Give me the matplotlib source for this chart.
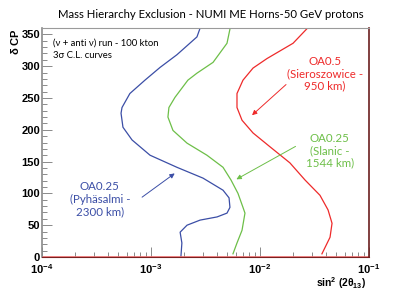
import numpy as np
import matplotlib
matplotlib.use("Agg")
import matplotlib.pyplot as plt

plt.rcParams['font.family'] = ['Lato', 'DejaVu Sans']
plt.rcParams['mathtext.fontset'] = 'custom'
plt.rcParams['mathtext.rm'] = 'Liberation Sans'
plt.rcParams['mathtext.bf'] = 'Liberation Sans:bold'
plt.rcParams['mathtext.it'] = 'Liberation Sans:italic'

# curves: delta CP (deg) vs sin^2(2theta13)
blue_dcp = [359, 346, 318, 298, 278, 257, 235, 226, 204, 184, 160, 141, 124, 105, 93, 78, 69, 63, 58, 50, 39, 22, 0]
blue_s2 = [0.00281, 0.00264, 0.00173, 0.00121, 0.00088, 0.00064, 0.000542, 0.000531, 0.000553, 0.00067,
           0.00098, 0.00173, 0.0030, 0.00458, 0.0052, 0.0053, 0.00498, 0.00404, 0.00282, 0.00214,
           0.00185, 0.00192, 0.00188]

green_dcp = [359, 336, 306, 289, 278, 251, 235, 220, 199, 179, 160, 141, 121, 100, 78, 69, 42, 22, 5]
green_s2 = [0.00531, 0.00498, 0.00371, 0.00264, 0.00218, 0.00166, 0.00146, 0.00143, 0.00159, 0.00214,
            0.00326, 0.00458, 0.00542, 0.00628, 0.00698, 0.00728, 0.00684, 0.00615, 0.00565]

red_dcp = [359, 336, 312, 297, 278, 257, 235, 215, 195, 173, 148, 121, 97, 74, 53, 31, 5]
red_s2 = [0.0270, 0.0201, 0.0116, 0.00863, 0.00698, 0.00615, 0.00615, 0.00684, 0.00863, 0.0124,
          0.0188, 0.0259, 0.0355, 0.0421, 0.0458, 0.0439, 0.0370]

xticks = [1e-4, 1e-3, 1e-2, 1e-1]
xticklabels = [r'$\mathbf{10^{-4}}$', r'$\mathbf{10^{-3}}$', r'$\mathbf{10^{-2}}$', r'$\mathbf{10^{-1}}$']
yticks = [0, 50, 100, 150, 200, 250, 300, 350]

blue = '#3b4ea6'
green = '#6dbf48'
red = '#ee2a2a'

fig = plt.figure(figsize=(4.11, 2.90), dpi=100)
ax = fig.add_axes([42 / 411, 33 / 290, 327 / 411, 229 / 290])

ax.plot(blue_s2, blue_dcp, color=blue, lw=0.9)
ax.plot(green_s2, green_dcp, color=green, lw=0.9)
ax.plot(red_s2, red_dcp, color=red, lw=0.9)
ax.axhline(0, color='#f07070', lw=1.2)

ax.set_xscale('log')
ax.set_xlim(1e-4, 1e-1)
ax.set_ylim(0, 360)
ax.set_xticks(xticks)
ax.set_xticklabels(xticklabels)
ax.set_yticks(yticks)
ax.set_yticks(np.arange(0, 361, 10), minor=True)
ax.xaxis.set_minor_locator(matplotlib.ticker.LogLocator(base=10, subs=np.arange(2, 10)))
ax.xaxis.set_minor_formatter(matplotlib.ticker.NullFormatter())
for lab in ax.get_yticklabels():
    lab.set_fontfamily('Liberation Sans')
    lab.set_fontweight('bold')
ax.tick_params(axis='both', which='major', direction='in', length=7, width=0.6, color='#777777',
               labelsize=8, pad=1.5)
ax.tick_params(axis='both', which='minor', direction='in', length=3.5, width=0.6, color='#777777')
ax.tick_params(axis='x', which='major', labelsize=8, pad=4)

ax.spines['left'].set_color('#8a8a8a')
ax.spines['left'].set_linewidth(1.2)
ax.spines['top'].set_color('#9a9a9a')
ax.spines['right'].set_color('#6b1f1f')
ax.spines['right'].set_linewidth(1.2)
ax.spines['bottom'].set_color('#7a2020')

fig.text(366 / 411, 1 - 283.5 / 290, r'$\mathbf{sin^2\ (2\theta_{13})}$', fontsize=7.4,
         ha='right', va='center')
ax.set_ylabel(r'$\mathbf{\delta\ CP}$', fontsize=8, loc='top', labelpad=0)

fig.text(211 / 411, 1 - 14 / 290, 'Mass Hierarchy Exclusion - NUMI ME Horns-50 GeV protons',
         ha='center', va='center', fontsize=8.2)
ax.text(0.034, 0.935, '(\u03bd + anti \u03bd) run - 100 kton', transform=ax.transAxes,
        fontsize=6.8, va='center', ha='left')
ax.text(0.034, 0.878, '3\u03c3 C.L. curves', transform=ax.transAxes,
        fontsize=6.8, va='center', ha='left')

ax.text(0.0394, 288, 'OA0.5\n(Sieroszowice -\n950 km)', color=red, fontsize=8.3,
        ha='center', va='center', multialignment='center', linespacing=1.15)
ax.text(0.0438, 167, 'OA0.25\n(Slanic -\n1544 km)', color=green, fontsize=8.3,
        ha='center', va='center', multialignment='center', linespacing=1.15)
ax.text(0.00034, 91, 'OA0.25\n(Pyh\u00e4salmi -\n2300 km)', color=blue, fontsize=8.3,
        ha='center', va='center', multialignment='center', linespacing=1.15)

arrow = dict(arrowstyle='-|>', lw=0.7, mutation_scale=7)
ax.annotate('', xy=(0.00809, 220), xytext=(0.0181, 274), arrowprops=dict(arrow, color=red))
ax.annotate('', xy=(0.00577, 120), xytext=(0.0223, 176), arrowprops=dict(arrow, color=green))
ax.annotate('', xy=(0.00173, 134), xytext=(0.00079, 91.5), arrowprops=dict(arrow, color=blue))

fig.savefig('out.png', dpi=100)
